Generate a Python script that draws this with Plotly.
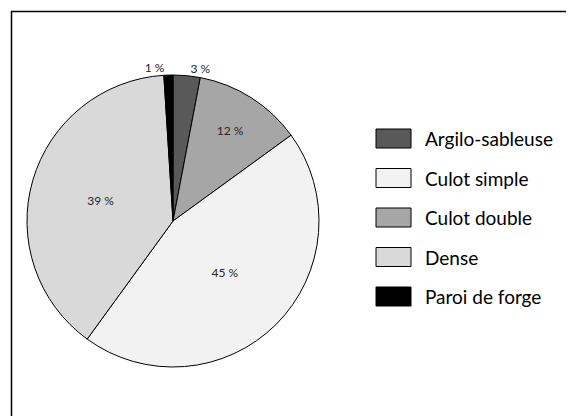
import plotly.graph_objects as go

# Slice order (clockwise from 12 o'clock)
slice_labels = ["Argilo-sableuse", "Culot double", "Culot simple", "Dense", "Paroi de forge"]
slice_values = [3, 12, 45, 39, 1]
slice_colors = ["#595959", "#a6a6a6", "#f2f2f2", "#d9d9d9", "#000000"]
slice_textpos = ["outside", "inside", "inside", "inside", "outside"]

# Legend order
legend_labels = ["Argilo-sableuse", "Culot simple", "Culot double", "Dense", "Paroi de forge"]
legend_colors = ["#595959", "#f2f2f2", "#a6a6a6", "#d9d9d9", "#000000"]

OFF = 8  # page body margin offset
W, H = 574 - OFF, 416 - OFF
FONT = "Lato, Carlito, Calibri, sans-serif"


def px(x):
    return (x - OFF) / W


def py(y):
    return 1 - (y - OFF) / H


fig = go.Figure()
fig.add_trace(go.Pie(
    labels=slice_labels,
    values=slice_values,
    sort=False,
    direction="clockwise",
    rotation=0,
    marker=dict(colors=slice_colors, line=dict(color="#000000", width=1)),
    texttemplate="%{value} %",
    textposition=slice_textpos,
    insidetextorientation="horizontal",
    textfont=dict(family=FONT, size=12, color="#262626"),
    showlegend=False,
    hoverinfo="label+value",
    domain=dict(x=[px(27), px(319)], y=[py(387), py(55)]),
))

shapes = [dict(type="rect", xref="paper", yref="paper",
               x0=px(11.5), x1=1.05, y0=-0.05, y1=py(11.5),
               line=dict(color="#000000", width=1.5), fillcolor="rgba(0,0,0,0)")]
annotations = []
y_top = 129
for i, (lab, col) in enumerate(zip(legend_labels, legend_colors)):
    y0 = y_top + i * 39.5
    shapes.append(dict(type="rect", xref="paper", yref="paper",
                       x0=px(376), x1=px(411),
                       y0=py(y0 + 19), y1=py(y0),
                       line=dict(color="#000000", width=1), fillcolor=col))
    annotations.append(dict(xref="paper", yref="paper", x=px(423), y=py(y0 + 9.5),
                            xanchor="left", yanchor="middle", showarrow=False,
                            text=lab, font=dict(family=FONT, size=19, color="#000000")))

fig.update_layout(
    width=W, height=H,
    margin=dict(l=0, r=0, t=0, b=0),
    paper_bgcolor="#ffffff",
    plot_bgcolor="#ffffff",
    shapes=shapes,
    annotations=annotations,
    font=dict(family=FONT),
)

fig.write_html("out.html")
